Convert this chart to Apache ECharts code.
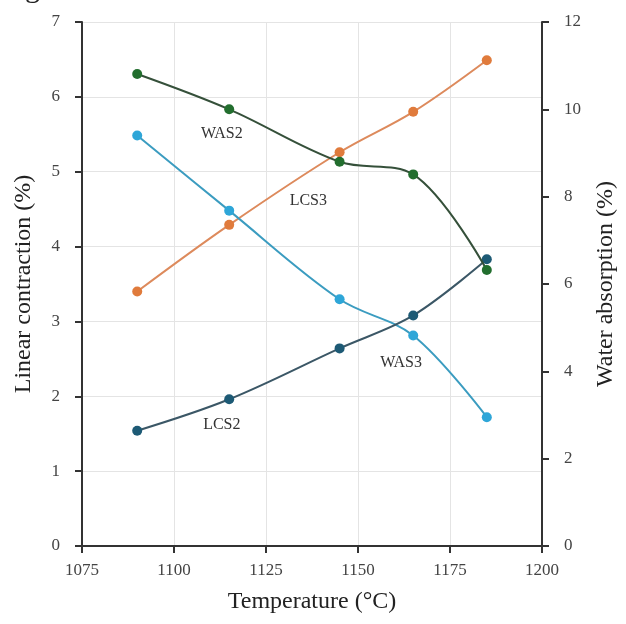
<!DOCTYPE html>
<html><head><meta charset="utf-8">
<script src="https://cdn.jsdelivr.net/npm/echarts@6/dist/echarts.min.js"></script>
<style>html,body{margin:0;padding:0;background:#fff}#c{width:626px;height:624px}</style>
</head><body><div id="c"></div>
<script>
const temps = [1090, 1115, 1145, 1165, 1185];
const lcs3 = [3.40, 4.29, 5.26, 5.80, 6.49];
const lcs2 = [1.54, 1.96, 2.64, 3.08, 3.83];
const was2 = [10.81, 10.00, 8.80, 8.51, 6.32];
const was3 = [9.40, 7.68, 5.65, 4.82, 2.95];
const xTicks = [1075, 1100, 1125, 1150, 1175, 1200];
const labelWAS2 = [1113, 9.43];
const labelLCS3 = [1136.5, 4.61];
const labelWAS3 = [1161.7, 4.19];
const labelLCS2 = [1113, 1.62];

const font = '"Liberation Serif", "Times New Roman", serif';
const pairs = (a) => temps.map((t, i) => [t, a[i]]);
function annot(coord, text) {
  return { symbol: 'circle', symbolSize: 0, silent: true,
    data: [{ coord: coord, value: text }],
    label: { show: true, position: 'inside', formatter: text, fontFamily: font, fontSize: 16, color: '#333' } };
}
function mk(name, data, yIdx, mColor, lColor, lab, z) {
  return { name: name, type: 'line', data: pairs(data), yAxisIndex: yIdx, smooth: 0.35,
    symbol: 'circle', symbolSize: 10, z: z,
    itemStyle: { color: mColor }, lineStyle: { color: lColor, width: 2 },
    markPoint: annot(lab, name) };
}
const chart = echarts.init(document.getElementById('c'));
chart.setOption({
  animation: false,
  title: { text: 'g.', left: 20, top: -31, textStyle: { fontFamily: font, fontSize: 30, fontWeight: 'normal', color: '#222' } },
  grid: { left: 82, right: 81, top: 22, bottom: 78 },
  xAxis: [{
    type: 'value', min: 1075, max: 1200, interval: 25,
    name: 'Temperature (°C)', nameLocation: 'middle', nameGap: 44,
    nameTextStyle: { fontFamily: font, fontSize: 24, color: '#222' },
    axisLine: { show: true, lineStyle: { color: '#333', width: 2 } },
    axisTick: { show: true, inside: false, length: 7, lineStyle: { color: '#333', width: 2 } },
    axisLabel: { fontFamily: font, fontSize: 17, color: '#444', margin: 16, formatter: (v) => String(v) },
    splitLine: { show: true, lineStyle: { color: '#e4e4e4', width: 1 } }
  }, {
    type: 'value', min: 1075, max: 1200, position: 'top',
    axisLine: { show: true, lineStyle: { color: '#333', width: 2 } },
    axisTick: { show: false }, axisLabel: { show: false }, splitLine: { show: false }
  }],
  yAxis: [{
    type: 'value', min: 0, max: 7, interval: 1, position: 'left',
    name: 'Linear contraction (%)', nameLocation: 'middle', nameGap: 46,
    nameTextStyle: { fontFamily: font, fontSize: 24, color: '#222' },
    axisLine: { show: true, lineStyle: { color: '#333', width: 2 } },
    axisTick: { show: true, length: 7, lineStyle: { color: '#333', width: 2 } },
    axisLabel: { fontFamily: font, fontSize: 17, color: '#444', margin: 22 },
    splitLine: { show: true, lineStyle: { color: '#e4e4e4', width: 1 } }
  }, {
    type: 'value', min: 0, max: 12, interval: 2, position: 'right',
    name: 'Water absorption (%)', nameLocation: 'middle', nameGap: 52,
    nameTextStyle: { fontFamily: font, fontSize: 24, color: '#222' },
    axisLine: { show: true, lineStyle: { color: '#333', width: 2 } },
    axisTick: { show: true, length: 7, lineStyle: { color: '#333', width: 2 } },
    axisLabel: { fontFamily: font, fontSize: 17, color: '#444', margin: 22 },
    splitLine: { show: false }
  }],
  series: [
    mk('LCS3', lcs3, 0, '#e07b3c', '#dd8a5c', labelLCS3, 2),
    mk('WAS3', was3, 1, '#2ea6d8', '#3b9cc0', labelWAS3, 3),
    mk('LCS2', lcs2, 0, '#1d5a75', '#3b5766', labelLCS2, 4),
    mk('WAS2', was2, 1, '#226e2e', '#35503a', labelWAS2, 5)
  ]
});
</script></body></html>
